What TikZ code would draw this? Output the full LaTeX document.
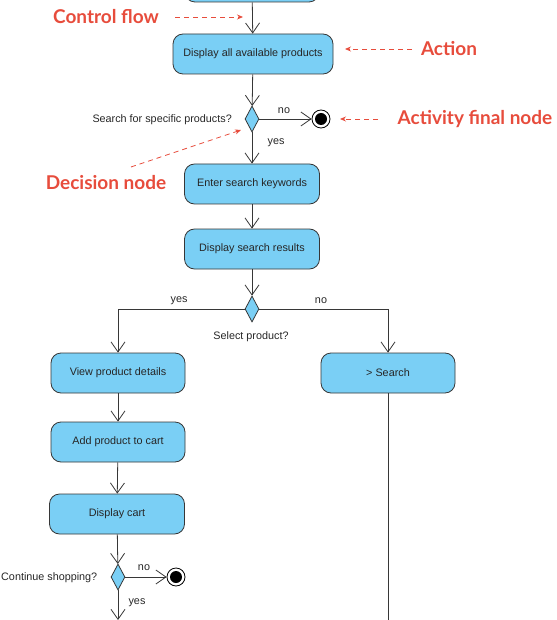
\documentclass[tikz,border=0pt]{standalone}
\usepackage{fontspec}
\setmainfont{Liberation Sans}
\newfontfamily\notefont{Lato}
\usepackage{tikz}
\usetikzlibrary{shapes.geometric, arrows.meta}

\definecolor{actblue}{RGB}{122,207,245}
\definecolor{notered}{RGB}{231,76,60}
\definecolor{edgegray}{RGB}{55,55,55}

\tikzset{
	act/.style={draw=edgegray, fill=actblue, line width=0.8pt, rounded corners=10pt,
		minimum width=134pt, minimum height=40pt, text=black!85,
		font=\fontsize{10.8}{12}\selectfont},
	dec/.style={draw=edgegray, fill=actblue, line width=0.8pt, diamond,
		minimum width=14pt, minimum height=26pt, inner sep=0pt},
	endnode/.style={draw=black, fill=white, line width=0.8pt, circle,
		minimum size=18pt, inner sep=0pt,
		path picture={\fill[black] (path picture bounding box.center) circle (6pt);}},
	flow/.style={draw=edgegray, line width=0.8pt, -{Straight Barb[length=10pt, width=14pt]}},
	guard/.style={text=black!85, font=\fontsize{10.8}{12}\selectfont, inner sep=1pt},
	note/.style={text=notered, font=\notefont\bfseries\fontsize{19}{22}\selectfont, inner sep=0pt},
	hint/.style={draw=notered, line width=0.8pt, dash pattern=on 5pt off 4pt,
		-{Stealth[length=6pt, width=5pt]}}
}

\begin{document}
\begin{tikzpicture}[x=1pt, y=-1pt]
	\useasboundingbox (0,0) rectangle (556,620);

	% main line
	\node [act] (start) at (252,-18) {};
	\node [act, minimum width=160pt] (showall) at (253,54) {Display all available products};
	\node [dec] (askspec) at (252,119) {};
	\node [endnode] (end1) at (321,119) {};
	\node [act, minimum width=135pt] (keywords) at (252,184) {Enter search keywords};
	\node [act, minimum width=135pt] (results) at (252,249) {Display search results};
	\node [dec] (askselect) at (252,309) {};

	% branches
	\node [act] (details) at (118,373) {View product details};
	\node [act] (search) at (388,373) {> Search};
	\node [act] (addcart) at (118,442) {Add product to cart};
	\node [act, minimum width=135pt] (cart) at (117,514) {Display cart};
	\node [dec] (askmore) at (118,577) {};
	\node [endnode] (end2) at (176,577) {};
	\coordinate (out1) at (118,620);
	\coordinate (out2) at (388,620);

	% guards
	\node [guard, anchor=east] (qspec) at (233,120) {Search for specific products?};
	\node [guard] (no1) at (284,111) {no};
	\node [guard] (yes1) at (276,143) {yes};
	\node [guard] (yes2) at (179,301) {yes};
	\node [guard] (no2) at (321,301) {no};
	\node [guard] (qselect) at (251,337) {Select product?};
	\node [guard, anchor=west] (qmore) at (0,578) {Continue shopping?};
	\node [guard] (no3) at (144,568) {no};
	\node [guard] (yes3) at (137,603) {yes};

	% flows
	\draw [flow] (start) -- (showall);
	\draw [flow] (showall) -- (askspec);
	\draw [flow] (askspec) -- (end1);
	\draw [flow] (askspec) -- (keywords);
	\draw [flow] (keywords) -- (results);
	\draw [flow] (results) -- (askselect);
	\draw [flow] (askselect.west) -| (details.north);
	\draw [flow] (askselect.east) -| (search.north);
	\draw [flow] (details) -- (addcart);
	\draw [flow] (addcart) -- (cart);
	\draw [flow] (cart) -- (askmore);
	\draw [flow] (askmore) -- (end2);
	\draw [flow] (askmore) -- (out1);
	\draw [draw=edgegray, line width=0.8pt] (search) -- (out2);

	% notes
	\node [note] (nflow) at (106,17) {Control flow};
	\node [note] (naction) at (449,49) {Action};
	\node [note] (nfinal) at (475,119) {Activity final node};
	\node [note] (ndecision) at (106,183) {Decision node};
	\coordinate (tailflow) at (175,17);
	\coordinate (tipflow) at (243,17);
	\coordinate (tailaction) at (412,49);
	\coordinate (tipaction) at (345,49);
	\coordinate (tailfinal) at (378,119);
	\coordinate (tipfinal) at (340,119);
	\coordinate (taildecision) at (131,167);
	\coordinate (tipdecision) at (241,130);
	\draw [hint] (tailflow) -- (tipflow);
	\draw [hint] (tailaction) -- (tipaction);
	\draw [hint] (tailfinal) -- (tipfinal);
	\draw [hint] (taildecision) -- (tipdecision);

\end{tikzpicture}
\end{document}
